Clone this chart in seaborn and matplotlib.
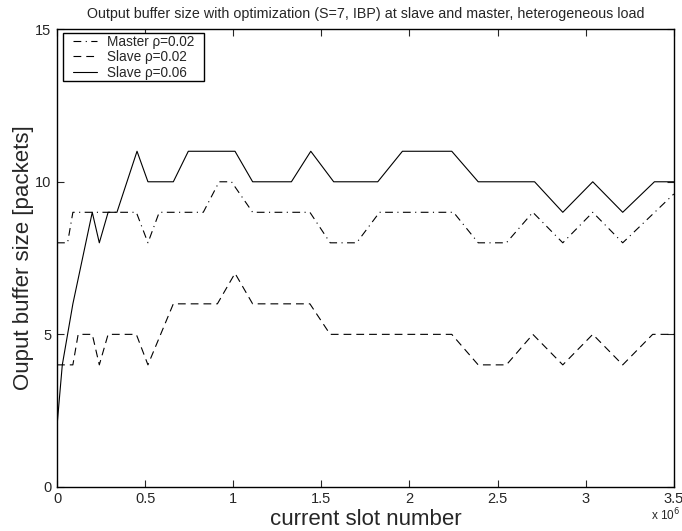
import numpy as np
import pandas as pd
import matplotlib
matplotlib.use("Agg")
import matplotlib.pyplot as plt
import seaborn as sns

# slot numbers in units of 10^6, buffer size in packets
master_x = [0, 0.06, 0.09, 0.45, 0.516, 0.58, 0.83, 0.92, 0.99, 1.11, 1.435, 1.55,
            1.70, 1.83, 2.25, 2.39, 2.55, 2.70, 2.87, 3.04, 3.21, 3.5]
master_y = [8, 8, 9, 9, 8, 9, 9, 10, 10, 9, 9, 8,
            8, 9, 9, 8, 8, 9, 8, 9, 8, 9.6]

slave_lo_x = [0, 0.09, 0.12, 0.2, 0.24, 0.29, 0.45, 0.516, 0.66, 0.91, 1.01, 1.11,
              1.435, 1.55, 2.24, 2.39, 2.55, 2.70, 2.87, 3.04, 3.21, 3.38, 3.5]
slave_lo_y = [4, 4, 5, 5, 4, 5, 5, 4, 6, 6, 7, 6,
              6, 5, 5, 4, 4, 5, 4, 5, 4, 5, 5]

slave_hi_x = [0, 0.03, 0.09, 0.2, 0.24, 0.29, 0.34, 0.454, 0.516, 0.66, 0.745, 1.01,
              1.11, 1.33, 1.44, 1.57, 1.82, 1.96, 2.24, 2.39, 2.71, 2.87, 3.04, 3.21,
              3.39, 3.5]
slave_hi_y = [2, 4, 6, 9, 8, 9, 9, 11, 10, 10, 11, 11,
              10, 10, 11, 10, 10, 11, 11, 10, 10, 9, 10, 9,
              10, 10]

labels = ["Master \u03c1=0.02", "Slave \u03c1=0.02", "Slave \u03c1=0.06"]
x_ticks = [0, 0.5, 1, 1.5, 2, 2.5, 3, 3.5]
x_tick_labels = ["0", "0.5", "1", "1.5", "2", "2.5", "3", "3.5"]
y_ticks = [0, 5, 10, 15]

frames = []
for name, xs, ys in zip(labels, [master_x, slave_lo_x, slave_hi_x],
                        [master_y, slave_lo_y, slave_hi_y]):
    frames.append(pd.DataFrame({"slot": xs, "size": ys, "series": name}))
df = pd.concat(frames, ignore_index=True)

sns.set_style("ticks")
plt.rcParams["font.family"] = ["Liberation Sans", "DejaVu Sans"]

fig, ax = plt.subplots(figsize=(6.82, 5.31), dpi=100)
fig.subplots_adjust(left=0.0836, right=0.988, bottom=0.083, top=0.945)

dash_styles = {labels[0]: (7, 4, 1, 4), labels[1]: (7, 4.5), labels[2]: ""}
sns.lineplot(data=df, x="slot", y="size", style="series", style_order=labels,
             dashes=dash_styles, color="black", linewidth=0.8,
             estimator=None, sort=False, ax=ax)

ax.set_xlim(0, 3.5)
ax.set_ylim(0, 15)
ax.set_xticks(x_ticks)
ax.set_xticklabels(x_tick_labels)
ax.set_yticks(y_ticks)
ax.tick_params(direction="in", length=5, width=0.8, labelsize=10.5,
               top=True, right=True, pad=4)
for s in ax.spines.values():
    s.set_visible(True)
    s.set_linewidth(1.0)
    s.set_color("black")

ax.set_xlabel("current slot number", fontsize=16, labelpad=2)
ax.set_ylabel("Ouput buffer size [packets]", fontsize=16, labelpad=1)
ax.set_title("Output buffer size with optimization (S=7, IBP) at slave and master, heterogeneous load",
             fontsize=10.3, pad=8)
ax.text(1.01, -0.062, "x 10$^6$", transform=ax.transAxes, ha="right", va="center", fontsize=8.5)

leg = ax.legend(loc="upper left", bbox_to_anchor=(0.023, 0.9913), fontsize=9.8,
                fancybox=False, frameon=True, edgecolor="black", framealpha=1,
                borderaxespad=0, borderpad=0.1, handlelength=1.8,
                handletextpad=0.75, labelspacing=0.12)
frame = leg.get_frame()
frame.set_linewidth(1.0)
# wide side padding, almost none at top and bottom
frame.set_boxstyle("square", pad=0.6)
frame.set_mutation_aspect(0.001)

fig.savefig("out.png", dpi=100)
